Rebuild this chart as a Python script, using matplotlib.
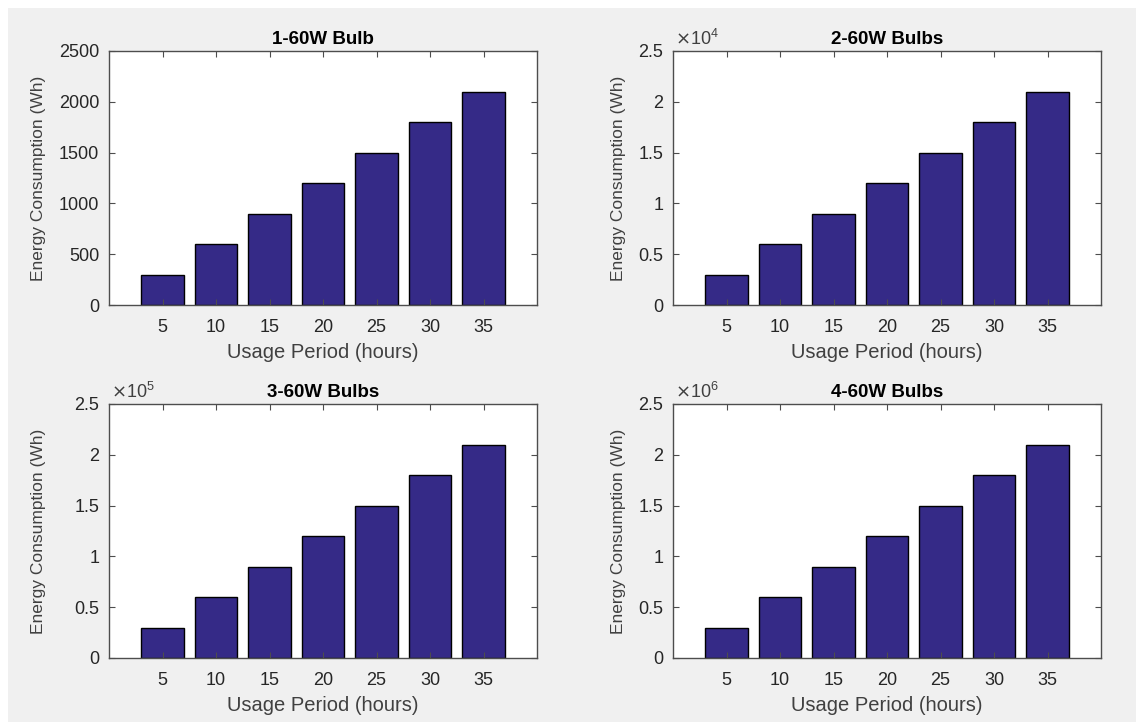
import matplotlib.pyplot as plt
from matplotlib.patches import Rectangle
from matplotlib.ticker import FuncFormatter

# usage hours on the x axis
hours = [5, 10, 15, 20, 25, 30, 35]

# energy consumption (Wh)
energy_1 = [300, 600, 900, 1200, 1500, 1800, 2100]
energy_2 = [3000, 6000, 9000, 12000, 15000, 18000, 21000]
energy_3 = [30000, 60000, 90000, 120000, 150000, 180000, 210000]
energy_4 = [300000, 600000, 900000, 1200000, 1500000, 1800000, 2100000]

titles = ['1-60W Bulb', '2-60W Bulbs', '3-60W Bulbs', '4-60W Bulbs']
exponents = [0, 4, 5, 6]
y_ticks = [0, 0.5, 1, 1.5, 2, 2.5]

plt.rcParams['font.family'] = ['Liberation Sans', 'DejaVu Sans']

W, H = 1136, 722
fig = plt.figure(figsize=(W / 100, H / 100), dpi=100, facecolor='white')
# MATLAB style grey window background
fig.patches.append(Rectangle((8 / W, 0), 1, 1 - 8 / H, transform=fig.transFigure,
                             facecolor='#f0f0f0', edgecolor='none', zorder=-10))

# axes boxes in pixels: left, bottom(from top)
boxes = [(109, 305), (673, 305), (109, 658), (673, 658)]
ax_w, ax_h = 428, 254
# ylabel anchor x in pixels
ylabel_x = [46, 626, 46, 626]

spine_col = '#4d4d4d'
text_col = '#262626'
label_col = '#404040'
bar_col = '#352a87'

all_energy = [energy_1, energy_2, energy_3, energy_4]

for i in range(4):
    left, bottom = boxes[i]
    ax = fig.add_axes([left / W, (H - bottom) / H, ax_w / W, ax_h / H])
    ax.set_facecolor('white')
    scale = 10 ** exponents[i]
    ax.bar(hours, [v / scale for v in all_energy[i]], width=4, color=bar_col,
           edgecolor='black', linewidth=1.0)
    ax.set_xlim(0, 40)
    ax.set_xticks(hours)
    if exponents[i] == 0:
        ax.set_ylim(0, 2500)
        ax.set_yticks([0, 500, 1000, 1500, 2000, 2500])
        ax.yaxis.set_major_formatter(FuncFormatter(lambda v, p: '%d' % v))
    else:
        ax.set_ylim(0, 2.5)
        ax.set_yticks(y_ticks)
        ax.yaxis.set_major_formatter(FuncFormatter(lambda v, p: '%g' % v))
        ax.text(0.005, 1.008, r'$\times\mathregular{10^{%d}}$' % exponents[i],
                transform=ax.transAxes, ha='left', va='bottom',
                fontsize=13, color=label_col)
    for s in ax.spines.values():
        s.set_color(spine_col)
        s.set_linewidth(1.0)
    ax.tick_params(direction='in', top=True, right=True, length=4,
                   width=0.8, color=spine_col, labelsize=13,
                   labelcolor=text_col, pad=7)
    ax.tick_params(axis='x', pad=10)
    ax.set_title(titles[i], fontsize=13.5, fontweight='bold', color='black', pad=5)
    ax.set_xlabel('Usage Period (hours)', fontsize=14.5, color=label_col, labelpad=5)
    ax.set_ylabel('Energy Consumption (Wh)', fontsize=12.5, color=label_col)
    ax.yaxis.set_label_coords((ylabel_x[i] - left) / ax_w, 0.5)

fig.savefig('out.png', dpi=100, facecolor=fig.get_facecolor())
